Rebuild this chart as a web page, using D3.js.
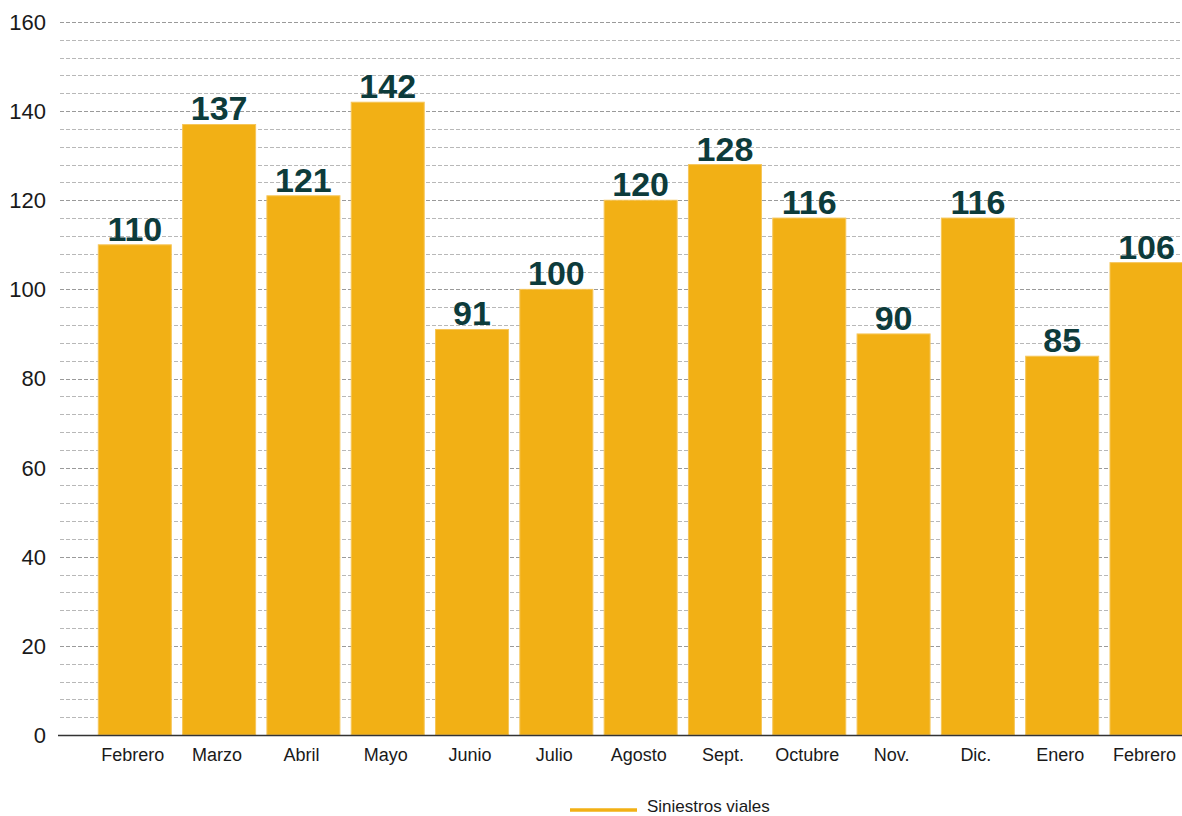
<!DOCTYPE html>
<html>
<head>
<meta charset="utf-8">
<script src="https://cdn.jsdelivr.net/npm/d3@7"></script>
<style>
  body { margin: 0; background: #fff; }
  text { font-family: "Liberation Sans", Arial, sans-serif; }
</style>
</head>
<body>
<script>
var months = ["Febrero", "Marzo", "Abril", "Mayo", "Junio", "Julio", "Agosto", "Sept.", "Octubre", "Nov.", "Dic.", "Enero", "Febrero"];
var siniestros = [110, 137, 121, 142, 91, 100, 120, 128, 116, 90, 116, 85, 106];
var yTicks = [0, 20, 40, 60, 80, 100, 120, 140, 160];
var seriesName = "Siniestros viales";

var width = 1182,
	height = 816;

var svg = d3.select("body").append("svg")
	.attr("width", width)
	.attr("height", height);

var y = d3.scaleLinear().domain([0, 160]).range([735, 22]);

// band scale, index keyed since "Febrero" appears twice
var x = d3.scaleBand()
	.domain(d3.range(months.length))
	.range([98.3, 1183])
	.paddingInner(0.134)
	.paddingOuter(0);

// minor + major dashed grid lines every 4
var grid = d3.range(4, 161, 4);
svg.append("g").selectAll("line").data(grid).enter().append("line")
	.attr("x1", 60)
	.attr("x2", width)
	.attr("y1", function(d){ return Math.round(y(d)) + 0.5; })
	.attr("y2", function(d){ return Math.round(y(d)) + 0.5; })
	.attr("stroke", function(d){ return d % 20 === 0 ? "#9a9a9a" : "#b8b8b8"; })
	.attr("stroke-width", 1)
	.attr("stroke-dasharray", "4,2");

// y tick labels
svg.append("g").selectAll("text").data(yTicks).enter().append("text")
	.attr("x", 46)
	.attr("y", function(d){ return y(d); })
	.attr("dy", "0.36em")
	.attr("text-anchor", "end")
	.attr("font-size", 22)
	.attr("fill", "#1a1a1a")
	.text(function(d){ return d; });

// bars
svg.append("g").selectAll("rect").data(siniestros).enter().append("rect")
	.attr("x", function(d, i){ return x(i); })
	.attr("y", function(d){ return y(d); })
	.attr("width", x.bandwidth())
	.attr("height", function(d){ return y(0) - y(d); })
	.attr("fill", "#f2b015")
	.attr("stroke", "#f6c65a")
	.attr("stroke-width", 1);

// baseline
svg.append("line")
	.attr("x1", 58).attr("x2", width)
	.attr("y1", y(0) + 0.5).attr("y2", y(0) + 0.5)
	.attr("stroke", "#333")
	.attr("stroke-width", 1.5);

// value labels
svg.append("g").selectAll("text").data(siniestros).enter().append("text")
	.attr("x", function(d, i){ return x(i) + x.bandwidth() / 2; })
	.attr("y", function(d){ return y(d) - 4; })
	.attr("text-anchor", "middle")
	.attr("font-size", 34)
	.attr("font-weight", "bold")
	.attr("fill", "#0d3b3b")
	.text(function(d){ return d; });

// month labels
svg.append("g").selectAll("text").data(months).enter().append("text")
	.attr("x", function(d, i){ return x(i) + x.bandwidth() / 2 - 2; })
	.attr("y", 761)
	.attr("text-anchor", "middle")
	.attr("font-size", 18)
	.attr("fill", "#1a1a1a")
	.text(function(d){ return d; });

// legend
var legend = svg.append("g");
legend.append("line")
	.attr("x1", 570).attr("x2", 637)
	.attr("y1", 810).attr("y2", 810)
	.attr("stroke", "#f2b015")
	.attr("stroke-width", 3.5);
legend.append("text")
	.attr("x", 647)
	.attr("y", 812)
	.attr("font-size", 17)
	.attr("fill", "#1a1a1a")
	.text(seriesName);
</script>
</body>
</html>
